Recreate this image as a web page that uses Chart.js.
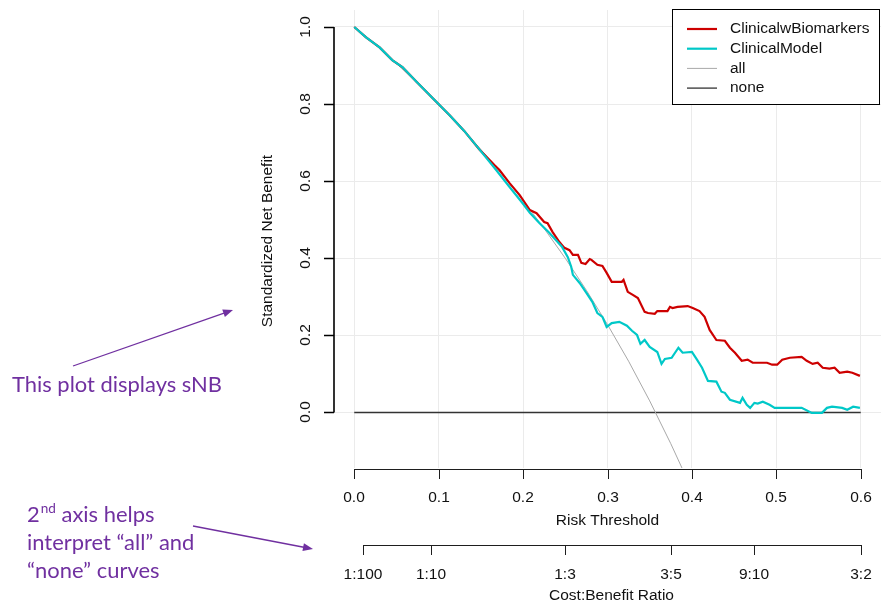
<!DOCTYPE html>
<html><head><meta charset="utf-8">
<script src="https://cdn.jsdelivr.net/npm/chart.js@4/dist/chart.umd.min.js"></script>
<style>html,body{margin:0;padding:0;background:#fff;}#wrap{position:relative;width:882px;height:607px;}</style>
</head><body><div id="wrap"><canvas id="c" width="882" height="607"></canvas></div>
<script>
// ---- data ----
const seriesNames = ['ClinicalwBiomarkers', 'ClinicalModel', 'all', 'none'];

const biomarkersT = [0, 0.014, 0.030, 0.045, 0.057, 0.074, 0.093, 0.113, 0.130, 0.148, 0.166, 0.172, 0.184, 0.196, 0.208, 0.216, 0.225, 0.229, 0.235, 0.243, 0.249, 0.255, 0.259, 0.265, 0.269, 0.274, 0.279, 0.281, 0.288, 0.294, 0.299, 0.305, 0.317, 0.319, 0.324, 0.330, 0.336, 0.344, 0.348, 0.356, 0.359, 0.371, 0.374, 0.377, 0.383, 0.395, 0.401, 0.409, 0.415, 0.421, 0.429, 0.439, 0.445, 0.451, 0.459, 0.466, 0.472, 0.489, 0.495, 0.501, 0.507, 0.516, 0.530, 0.536, 0.543, 0.549, 0.555, 0.563, 0.569, 0.575, 0.584, 0.590, 0.599];
const biomarkersSNB = [1.0, 0.973, 0.947, 0.914, 0.896, 0.857, 0.815, 0.771, 0.731, 0.683, 0.642, 0.629, 0.595, 0.564, 0.525, 0.517, 0.494, 0.491, 0.468, 0.442, 0.427, 0.421, 0.409, 0.409, 0.388, 0.385, 0.398, 0.396, 0.383, 0.380, 0.362, 0.339, 0.339, 0.344, 0.313, 0.305, 0.297, 0.261, 0.258, 0.256, 0.263, 0.263, 0.274, 0.271, 0.274, 0.276, 0.271, 0.263, 0.248, 0.214, 0.188, 0.186, 0.168, 0.155, 0.134, 0.137, 0.129, 0.129, 0.124, 0.124, 0.137, 0.142, 0.144, 0.134, 0.126, 0.129, 0.116, 0.114, 0.116, 0.103, 0.106, 0.103, 0.095];

const clinicalT = [0, 0.014, 0.030, 0.045, 0.057, 0.074, 0.093, 0.113, 0.130, 0.148, 0.166, 0.184, 0.199, 0.208, 0.219, 0.231, 0.246, 0.253, 0.257, 0.259, 0.267, 0.275, 0.282, 0.288, 0.294, 0.299, 0.305, 0.314, 0.323, 0.329, 0.335, 0.339, 0.344, 0.350, 0.359, 0.364, 0.368, 0.376, 0.384, 0.389, 0.400, 0.406, 0.412, 0.419, 0.429, 0.435, 0.439, 0.445, 0.457, 0.460, 0.465, 0.469, 0.474, 0.478, 0.484, 0.492, 0.498, 0.516, 0.530, 0.542, 0.554, 0.560, 0.566, 0.578, 0.584, 0.591, 0.599];
const clinicalSNB = [1.0, 0.973, 0.947, 0.914, 0.896, 0.857, 0.815, 0.771, 0.731, 0.683, 0.635, 0.585, 0.544, 0.518, 0.492, 0.466, 0.430, 0.403, 0.378, 0.357, 0.336, 0.310, 0.287, 0.258, 0.248, 0.222, 0.232, 0.235, 0.225, 0.212, 0.201, 0.178, 0.188, 0.170, 0.157, 0.126, 0.139, 0.142, 0.168, 0.155, 0.157, 0.137, 0.116, 0.082, 0.080, 0.054, 0.051, 0.033, 0.025, 0.038, 0.020, 0.012, 0.025, 0.023, 0.028, 0.020, 0.012, 0.012, 0.012, -0.001, -0.001, 0.012, 0.015, 0.012, 0.007, 0.015, 0.012];

const allT = [0, 0.025, 0.05, 0.075, 0.10, 0.125, 0.15, 0.175, 0.20, 0.225, 0.25, 0.275, 0.30, 0.325, 0.35, 0.375, 0.40];
const allSNB = [1.0, 0.954, 0.905, 0.854, 0.800, 0.743, 0.682, 0.618, 0.550, 0.477, 0.400, 0.317, 0.228, 0.133, 0.030, -0.081, -0.200];

const noneT = [0, 0.6];
const noneSNB = [0, 0];

const riskTicks = [0, 0.1, 0.2, 0.3, 0.4, 0.5, 0.6];
const snbTicks = [0, 0.2, 0.4, 0.6, 0.8, 1.0];
const costBenefitLabels = ['1:100', '1:10', '1:3', '3:5', '9:10', '3:2'];

const axisTitles = { x: 'Risk Threshold', y: 'Standardized Net Benefit', x2: 'Cost:Benefit Ratio' };
const notes = { top: 'This plot displays sNB', bottom: ['axis helps', 'interpret \u201call\u201d and', '\u201cnone\u201d curves'] };

// ---- build ----
const zip = (xs, ys) => xs.map((v, i) => ({ x: v, y: ys[i] }));
const colors = ['#CD0000', '#00C8C8', '#A8A8A8', '#333333'];
const widths = [2.2, 2.2, 1, 1.3];
const ratioToThreshold = s => { const [a, b] = s.split(':').map(Number); return a / (a + b); };

const FONT = '"Liberation Sans", Arial, sans-serif';
const PURPLE = '#7030A0';

function arrow(ctx, x1, y1, x2, y2) {
  const ang = Math.atan2(y2 - y1, x2 - x1), L = 10, W = 4;
  ctx.beginPath(); ctx.moveTo(x1, y1);
  ctx.lineTo(x2 - Math.cos(ang) * L * 0.8, y2 - Math.sin(ang) * L * 0.8); ctx.stroke();
  ctx.beginPath(); ctx.moveTo(x2, y2);
  ctx.lineTo(x2 - Math.cos(ang) * L + Math.sin(ang) * W, y2 - Math.sin(ang) * L - Math.cos(ang) * W);
  ctx.lineTo(x2 - Math.cos(ang) * L - Math.sin(ang) * W, y2 - Math.sin(ang) * L + Math.cos(ang) * W);
  ctx.closePath(); ctx.fill();
}

const decor = {
  id: 'decor',
  afterDraw(chart) {
    const { ctx, chartArea: ca, scales: { x, y } } = chart;
    ctx.save();
    const AX = '#1e1e1e';
    const hline = (x1, x2, yy) => { ctx.fillStyle = AX; ctx.fillRect(Math.min(x1, x2), Math.round(yy), Math.abs(x2 - x1) + 1, 1); };
    const vline = (xx, y1, y2, w) => { ctx.fillStyle = AX; ctx.fillRect(Math.round(xx), Math.min(y1, y2), w || 1, Math.abs(y2 - y1) + 1); };
    ctx.font = '15.5px ' + FONT; ctx.textAlign = 'center'; ctx.textBaseline = 'middle';
    const TXT = '#111';

    // y axis
    const ay = Math.round(ca.left);
    const yTop = Math.round(y.getPixelForValue(snbTicks[snbTicks.length - 1]));
    const yBot = Math.round(y.getPixelForValue(snbTicks[0]));
    ctx.strokeStyle = '#000'; ctx.lineWidth = 1.6;
    ctx.beginPath(); ctx.moveTo(ay, yTop); ctx.lineTo(ay, yBot + 0.5);
    snbTicks.forEach(v => {
      const p = Math.round(y.getPixelForValue(v)) + 0.5;
      ctx.moveTo(ay - 10, p); ctx.lineTo(ay, p);
    });
    ctx.stroke();
    snbTicks.forEach(v => {
      const p = Math.round(y.getPixelForValue(v));
      ctx.save(); ctx.translate(ay - 28, p); ctx.rotate(-Math.PI / 2);
      ctx.fillStyle = TXT; ctx.fillText(v.toFixed(1), 0, 0); ctx.restore();
    });
    ctx.save(); ctx.translate(ay - 66, (ca.top + ca.bottom) / 2 + 2); ctx.rotate(-Math.PI / 2);
    ctx.fillStyle = TXT; ctx.fillText(axisTitles.y, 0, 0); ctx.restore();

    // x axis
    const ax = Math.round(ca.bottom + 1);
    hline(Math.round(x.getPixelForValue(riskTicks[0])), Math.round(x.getPixelForValue(riskTicks[riskTicks.length - 1])), ax);
    riskTicks.forEach(v => {
      const p = Math.round(x.getPixelForValue(v));
      vline(p, ax, ax + 9);
      ctx.fillStyle = TXT; ctx.fillText(v.toFixed(1), p, ax + 29);
    });
    const cx = (ca.left + ca.right) / 2;
    ctx.fillStyle = TXT; ctx.fillText(axisTitles.x, cx, ax + 52);

    // second axis: cost:benefit ratio
    const ax2 = ax + 76;
    const cbT = costBenefitLabels.map(ratioToThreshold);
    hline(Math.round(x.getPixelForValue(cbT[0])), Math.round(x.getPixelForValue(cbT[cbT.length - 1])), ax2);
    cbT.forEach((t, i) => {
      const p = Math.round(x.getPixelForValue(t));
      vline(p, ax2, ax2 + 9);
      ctx.fillStyle = TXT; ctx.fillText(costBenefitLabels[i], p, ax2 + 30);
    });
    ctx.fillStyle = TXT; ctx.fillText(axisTitles.x2, cx + 4, ax2 + 51);

    // legend
    const lx = Math.round(ca.right) - 209, ly = 9;
    ctx.fillStyle = '#fff'; ctx.fillRect(lx, ly, 208, 96);
    ctx.strokeStyle = '#000'; ctx.lineWidth = 1; ctx.strokeRect(lx + 0.5, ly + 0.5, 207, 95);
    ctx.textAlign = 'left';
    seriesNames.forEach((n, i) => {
      const yy = ly + 20 + i * 19.7;
      ctx.strokeStyle = colors[i]; ctx.lineWidth = widths[i];
      ctx.beginPath(); ctx.moveTo(lx + 15, yy); ctx.lineTo(lx + 45, yy); ctx.stroke();
      ctx.fillStyle = TXT; ctx.fillText(n, lx + 58, yy);
    });

    // annotations
    ctx.fillStyle = PURPLE; ctx.strokeStyle = PURPLE; ctx.lineWidth = 1.3;
    ctx.textBaseline = 'alphabetic';
    ctx.font = '21px Lato, "Open Sans", sans-serif';
    const w0 = ctx.measureText(notes.top).width;
    const fs = 21 * 210 / w0;
    ctx.font = fs.toFixed(2) + 'px Lato, "Open Sans", sans-serif';
    ctx.fillText(notes.top, 12, 392);
    arrow(ctx, 73, 366, 233, 310);

    const bx = 27;
    ctx.fillText('2', bx, 522);
    const w2 = ctx.measureText('2').width;
    ctx.font = (fs * 0.62).toFixed(2) + 'px Lato, "Open Sans", sans-serif';
    ctx.fillText('nd', bx + w2 + 1, 513);
    const wnd = ctx.measureText('nd').width;
    ctx.font = fs.toFixed(2) + 'px Lato, "Open Sans", sans-serif';
    ctx.fillText(' ' + notes.bottom[0], bx + w2 + 1 + wnd, 522);
    ctx.fillText(notes.bottom[1], bx, 550);
    ctx.fillText(notes.bottom[2], bx, 578);
    arrow(ctx, 193, 526, 313, 549);
    ctx.restore();
  }
};

new Chart(document.getElementById('c'), {
  type: 'line',
  data: {
    datasets: [
      { label: seriesNames[0], data: zip(biomarkersT, biomarkersSNB), borderColor: colors[0], borderWidth: widths[0], pointRadius: 0, tension: 0, order: 1 },
      { label: seriesNames[1], data: zip(clinicalT, clinicalSNB), borderColor: colors[1], borderWidth: widths[1], pointRadius: 0, tension: 0, order: 0 },
      { label: seriesNames[2], data: zip(allT, allSNB), borderColor: colors[2], borderWidth: widths[2], pointRadius: 0, tension: 0, order: 2 },
      { label: seriesNames[3], data: zip(noneT, noneSNB), borderColor: colors[3], borderWidth: widths[3], pointRadius: 0, tension: 0, order: 3 }
    ]
  },
  options: {
    responsive: false, animation: false, devicePixelRatio: 1,
    layout: { padding: { left: 334, right: 1, top: 10, bottom: 139 } },
    plugins: { legend: { display: false }, tooltip: { enabled: false } },
    scales: {
      x: {
        type: 'linear', min: -0.024, max: 0.624,
        afterBuildTicks: s => { s.ticks = riskTicks.map(v => ({ value: v })); },
        ticks: { display: false }, grid: { color: '#ebebeb', drawTicks: false }, border: { display: false }
      },
      y: {
        type: 'linear', min: -0.144, max: 1.044,
        afterBuildTicks: s => { s.ticks = snbTicks.map(v => ({ value: v })); },
        ticks: { display: false }, grid: { color: '#ebebeb', drawTicks: false }, border: { display: false }
      }
    }
  },
  plugins: [decor]
});
</script>
</body></html>
